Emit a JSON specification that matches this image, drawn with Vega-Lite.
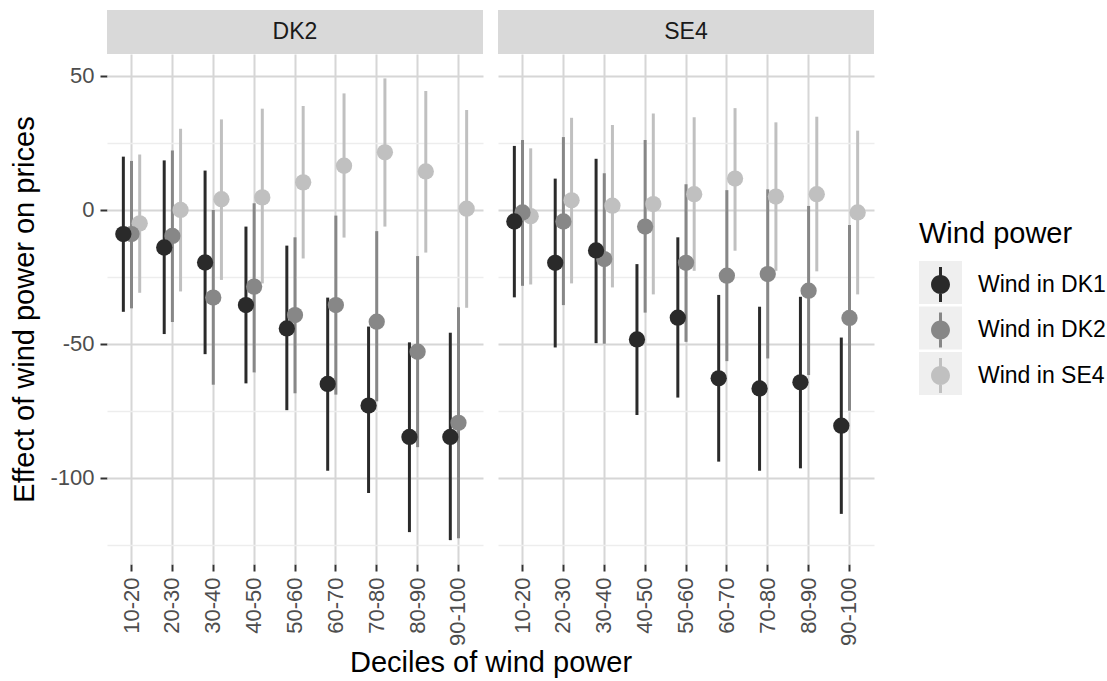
{
  "$schema": "https://vega.github.io/schema/vega-lite/v6.json",
  "padding": {"left": 10, "top": 10, "right": 0, "bottom": 0},
  "background": "#ffffff",
  "config": {
    "view": {"stroke": null},
    "font": "Liberation Sans",
    "axis": {
      "domain": false,
      "tickColor": "#333333",
      "tickWidth": 2,
      "tickSize": 7,
      "labelFont": "Liberation Sans",
      "labelFontSize": 22,
      "labelColor": "#4d4d4d",
      "titleFont": "Liberation Sans",
      "titleFontSize": 29,
      "titleFontWeight": "normal",
      "titleColor": "#000000"
    },
    "axisX": {"labelAngle": 270, "bandPosition": 0.5, "grid": true, "gridColor": "#d6d6d6", "gridWidth": 2, "labelPadding": 6},
    "axisY": {"labelPadding": 6, "titlePadding": 10},
    "legend": {
      "labelFont": "Liberation Sans",
      "labelFontSize": 23,
      "labelColor": "#000000",
      "titleFont": "Liberation Sans",
      "titleFontSize": 29,
      "titleFontWeight": "normal",
      "titleColor": "#000000",
      "orient": "none",
      "legendX": 812,
      "symbolSize": 1849,
      "symbolStrokeWidth": 0,
      "symbolOpacity": 1,
      "labelOffset": 16,
      "titlePadding": 14
    }
  },
  "spacing": 0,
  "vconcat": [
    {
      "width": 767,
      "height": 44,
      "data": {"values": [{"panel": "DK2"}, {"panel": "SE4"}]},
      "encoding": {
        "x": {"field": "panel", "type": "nominal", "axis": null, "scale": {"paddingInner": 0.0384, "paddingOuter": 0}}
      },
      "layer": [
        {"mark": {"type": "rect", "color": "#d9d9d9"}, "encoding": {"y": {"value": 0}, "y2": {"value": "height"}}},
        {"mark": {"type": "text", "fontSize": 23, "color": "#1a1a1a", "baseline": "middle"}, "encoding": {"text": {"field": "panel"}}}
      ]
    },
    {
      "data": {"values": [
        {"panel": "DK2", "decile": "10-20", "series": "Wind in SE4", "est": -5.1, "lo": -31.0, "hi": 20.6},
        {"panel": "DK2", "decile": "20-30", "series": "Wind in SE4", "est": -0.1, "lo": -30.5, "hi": 30.2},
        {"panel": "DK2", "decile": "30-40", "series": "Wind in SE4", "est": 3.9, "lo": -26.2, "hi": 33.7},
        {"panel": "DK2", "decile": "40-50", "series": "Wind in SE4", "est": 4.6, "lo": -27.5, "hi": 37.7},
        {"panel": "DK2", "decile": "50-60", "series": "Wind in SE4", "est": 10.2, "lo": -18.2, "hi": 38.7},
        {"panel": "DK2", "decile": "60-70", "series": "Wind in SE4", "est": 16.4, "lo": -10.4, "hi": 43.4},
        {"panel": "DK2", "decile": "70-80", "series": "Wind in SE4", "est": 21.4, "lo": -6.3, "hi": 49.0},
        {"panel": "DK2", "decile": "80-90", "series": "Wind in SE4", "est": 14.3, "lo": -16.0, "hi": 44.3},
        {"panel": "DK2", "decile": "90-100", "series": "Wind in SE4", "est": 0.4, "lo": -36.6, "hi": 37.2},
        {"panel": "DK2", "decile": "10-20", "series": "Wind in DK2", "est": -9.1, "lo": -36.8, "hi": 18.2},
        {"panel": "DK2", "decile": "20-30", "series": "Wind in DK2", "est": -9.8, "lo": -41.9, "hi": 22.1},
        {"panel": "DK2", "decile": "30-40", "series": "Wind in DK2", "est": -32.8, "lo": -65.3, "hi": -0.1},
        {"panel": "DK2", "decile": "40-50", "series": "Wind in DK2", "est": -28.7, "lo": -60.7, "hi": 2.4},
        {"panel": "DK2", "decile": "50-60", "series": "Wind in DK2", "est": -39.3, "lo": -68.5, "hi": -10.3},
        {"panel": "DK2", "decile": "60-70", "series": "Wind in DK2", "est": -35.6, "lo": -69.0, "hi": -2.2},
        {"panel": "DK2", "decile": "70-80", "series": "Wind in DK2", "est": -41.8, "lo": -71.5, "hi": -8.0},
        {"panel": "DK2", "decile": "80-90", "series": "Wind in DK2", "est": -53.0, "lo": -88.6, "hi": -17.3},
        {"panel": "DK2", "decile": "90-100", "series": "Wind in DK2", "est": -79.5, "lo": -122.6, "hi": -36.4},
        {"panel": "DK2", "decile": "10-20", "series": "Wind in DK1", "est": -9.1, "lo": -38.1, "hi": 19.8},
        {"panel": "DK2", "decile": "20-30", "series": "Wind in DK1", "est": -14.1, "lo": -46.4, "hi": 18.4},
        {"panel": "DK2", "decile": "30-40", "series": "Wind in DK1", "est": -19.7, "lo": -53.9, "hi": 14.6},
        {"panel": "DK2", "decile": "40-50", "series": "Wind in DK1", "est": -35.6, "lo": -64.8, "hi": -6.3},
        {"panel": "DK2", "decile": "50-60", "series": "Wind in DK1", "est": -44.3, "lo": -74.8, "hi": -13.4},
        {"panel": "DK2", "decile": "60-70", "series": "Wind in DK1", "est": -65.0, "lo": -97.4, "hi": -32.8},
        {"panel": "DK2", "decile": "70-80", "series": "Wind in DK1", "est": -73.1, "lo": -105.7, "hi": -43.6},
        {"panel": "DK2", "decile": "80-90", "series": "Wind in DK1", "est": -84.8, "lo": -120.3, "hi": -49.5},
        {"panel": "DK2", "decile": "90-100", "series": "Wind in DK1", "est": -84.8, "lo": -123.3, "hi": -45.9},
        {"panel": "SE4", "decile": "10-20", "series": "Wind in SE4", "est": -2.4, "lo": -27.9, "hi": 22.9},
        {"panel": "SE4", "decile": "20-30", "series": "Wind in SE4", "est": 3.5, "lo": -27.5, "hi": 34.3},
        {"panel": "SE4", "decile": "30-40", "series": "Wind in SE4", "est": 1.5, "lo": -29.0, "hi": 31.6},
        {"panel": "SE4", "decile": "40-50", "series": "Wind in SE4", "est": 2.1, "lo": -31.6, "hi": 35.9},
        {"panel": "SE4", "decile": "50-60", "series": "Wind in SE4", "est": 5.8, "lo": -22.8, "hi": 34.5},
        {"panel": "SE4", "decile": "60-70", "series": "Wind in SE4", "est": 11.6, "lo": -15.3, "hi": 37.9},
        {"panel": "SE4", "decile": "70-80", "series": "Wind in SE4", "est": 4.9, "lo": -22.8, "hi": 32.6},
        {"panel": "SE4", "decile": "80-90", "series": "Wind in SE4", "est": 5.8, "lo": -23.0, "hi": 34.7},
        {"panel": "SE4", "decile": "90-100", "series": "Wind in SE4", "est": -1.0, "lo": -31.6, "hi": 29.5},
        {"panel": "SE4", "decile": "10-20", "series": "Wind in DK2", "est": -1.0, "lo": -28.4, "hi": 26.0},
        {"panel": "SE4", "decile": "20-30", "series": "Wind in DK2", "est": -4.4, "lo": -35.6, "hi": 27.1},
        {"panel": "SE4", "decile": "30-40", "series": "Wind in DK2", "est": -18.4, "lo": -50.0, "hi": 13.6},
        {"panel": "SE4", "decile": "40-50", "series": "Wind in DK2", "est": -6.3, "lo": -38.4, "hi": 26.0},
        {"panel": "SE4", "decile": "50-60", "series": "Wind in DK2", "est": -19.8, "lo": -49.3, "hi": 9.5},
        {"panel": "SE4", "decile": "60-70", "series": "Wind in DK2", "est": -24.6, "lo": -56.5, "hi": 7.3},
        {"panel": "SE4", "decile": "70-80", "series": "Wind in DK2", "est": -24.0, "lo": -55.5, "hi": 7.6},
        {"panel": "SE4", "decile": "80-90", "series": "Wind in DK2", "est": -30.2, "lo": -61.7, "hi": 1.4},
        {"panel": "SE4", "decile": "90-100", "series": "Wind in DK2", "est": -40.4, "lo": -75.0, "hi": -5.7},
        {"panel": "SE4", "decile": "10-20", "series": "Wind in DK1", "est": -4.4, "lo": -32.7, "hi": 23.8},
        {"panel": "SE4", "decile": "20-30", "series": "Wind in DK1", "est": -19.8, "lo": -51.4, "hi": 11.6},
        {"panel": "SE4", "decile": "30-40", "series": "Wind in DK1", "est": -15.2, "lo": -49.8, "hi": 19.0},
        {"panel": "SE4", "decile": "40-50", "series": "Wind in DK1", "est": -48.4, "lo": -76.6, "hi": -20.3},
        {"panel": "SE4", "decile": "50-60", "series": "Wind in DK1", "est": -40.3, "lo": -70.1, "hi": -10.3},
        {"panel": "SE4", "decile": "60-70", "series": "Wind in DK1", "est": -62.9, "lo": -94.0, "hi": -31.8},
        {"panel": "SE4", "decile": "70-80", "series": "Wind in DK1", "est": -66.7, "lo": -97.4, "hi": -36.2},
        {"panel": "SE4", "decile": "80-90", "series": "Wind in DK1", "est": -64.4, "lo": -96.5, "hi": -32.5},
        {"panel": "SE4", "decile": "90-100", "series": "Wind in DK1", "est": -80.6, "lo": -113.5, "hi": -47.7}
      ]},
      "facet": {
        "column": {
          "field": "panel", "type": "nominal", "title": "Deciles of wind power",
          "header": {"labels": false, "titleOrient": "bottom", "titleFont": "Liberation Sans", "titleFontSize": 29, "titleFontWeight": "normal", "titleColor": "#000000", "titlePadding": -7}
        }
      },
      "spacing": 15,
      "spec": {
        "width": 376,
        "height": 510,
        "encoding": {
          "x": {
            "field": "decile", "type": "ordinal", "title": null,
            "scale": {"domain": ["10-20", "20-30", "30-40", "40-50", "50-60", "60-70", "70-80", "80-90", "90-100"], "paddingInner": 0, "paddingOuter": 0.1}
          },
          "xOffset": {
            "field": "series", "type": "nominal",
            "scale": {"domain": ["Wind in DK1", "Wind in DK2", "Wind in SE4"], "paddingInner": 0, "paddingOuter": 1.42}
          },
          "color": {
            "field": "series", "type": "nominal",
            "scale": {"domain": ["Wind in DK1", "Wind in DK2", "Wind in SE4"], "range": ["#2a2a2a", "#878787", "#c0c0c0"]},
            "legend": {
              "title": "Wind power",
              "zindex": 2,
              "legendY": 210,
              "rowPadding": 6.5,
              "symbolType": "M-0.44,0A0.44,0.44,0,1,1,0.44,0A0.44,0.44,0,1,1,-0.44,0Z M-0.07,-0.81L0.07,-0.81L0.07,0.81L-0.07,0.81Z"
            }
          }
        },
        "layer": [
          {
            "mark": {"type": "rule", "strokeWidth": 3},
            "encoding": {
              "y": {
                "field": "lo", "type": "quantitative", "title": "Effect of wind power on prices",
                "scale": {"domain": [-132.2, 58.1], "nice": false, "zero": false},
                "axis": {
                  "values": [-125, -100, -75, -50, -25, 0, 25, 50],
                  "labelExpr": "datum.value % 50 === 0 ? '' + datum.value : ''",
                  "gridColor": {"condition": {"test": "datum.value % 50 === 0", "value": "#d6d6d6"}, "value": "#ededed"},
                  "gridWidth": {"condition": {"test": "datum.value % 50 === 0", "value": 2}, "value": 1.5},
                  "tickOpacity": {"condition": {"test": "datum.value % 50 === 0", "value": 1}, "value": 0}
                }
              },
              "y2": {"field": "hi"}
            }
          },
          {
            "mark": {"type": "circle", "size": 265},
            "encoding": {
              "y": {
                "field": "est", "type": "quantitative", "title": "Effect of wind power on prices",
                "axis": {
                  "values": [-125, -100, -75, -50, -25, 0, 25, 50],
                  "labelExpr": "datum.value % 50 === 0 ? '' + datum.value : ''",
                  "gridColor": {"condition": {"test": "datum.value % 50 === 0", "value": "#d6d6d6"}, "value": "#ededed"},
                  "gridWidth": {"condition": {"test": "datum.value % 50 === 0", "value": 2}, "value": 1.5},
                  "tickOpacity": {"condition": {"test": "datum.value % 50 === 0", "value": 1}, "value": 0}
                }
              },
              "opacity": {
                "field": "series", "type": "nominal",
                "scale": {"range": [1, 1]},
                "legend": {
                  "title": "Wind power",
                  "zindex": 1,
                  "legendY": 208,
                  "rowPadding": 2.5,
                  "titleOpacity": 0,
                  "labelExpr": "''",
                  "symbolType": "square",
                  "symbolFillColor": "#efefef"
                }
              }
            }
          }
        ]
      }
    }
  ]
}
